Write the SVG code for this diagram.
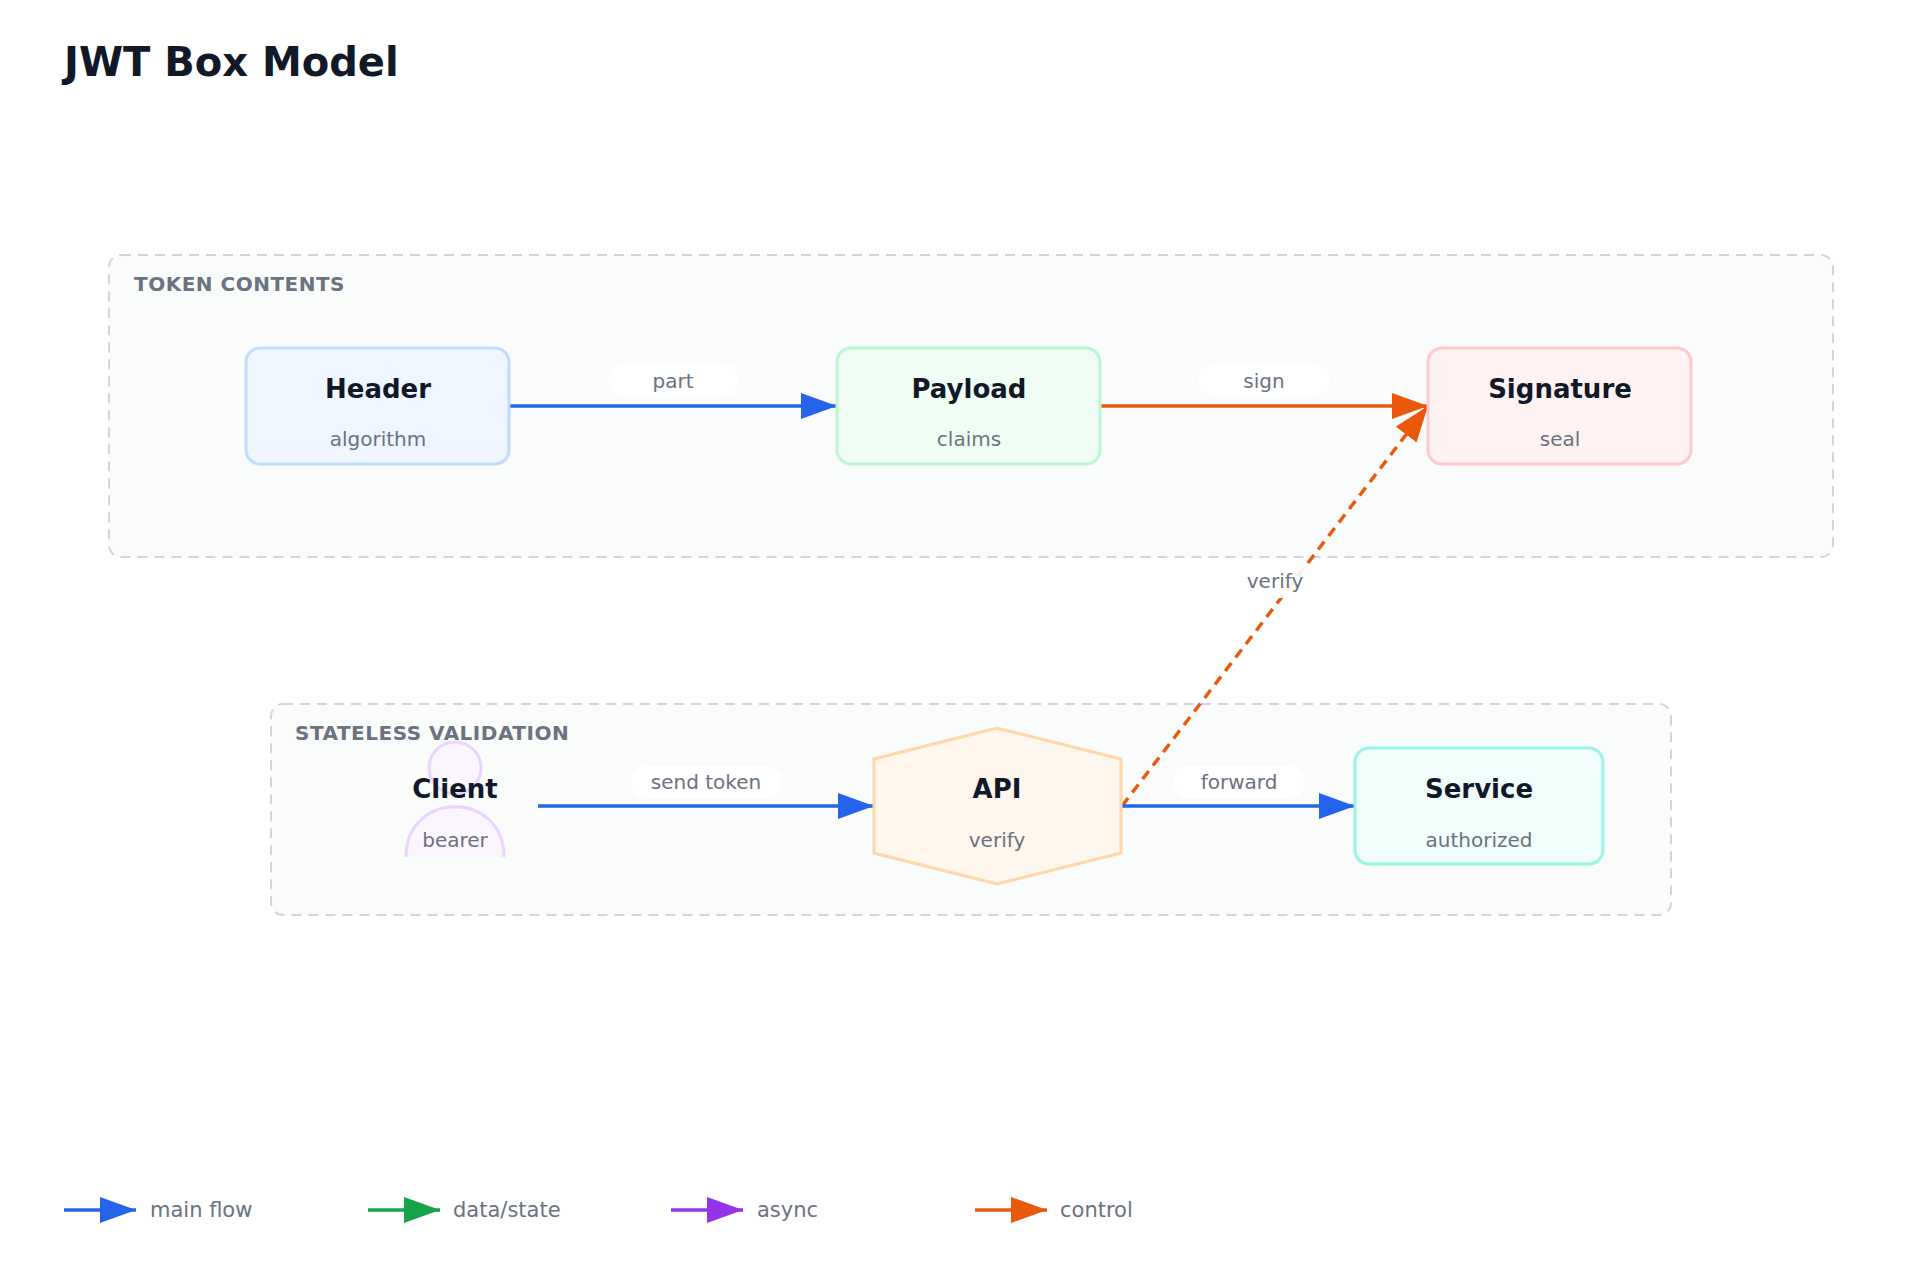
<svg xmlns="http://www.w3.org/2000/svg" width="1920" height="1280" viewBox="0 0 1920 1280">
<defs>
<style>
text{font-family:"DejaVu Sans","Noto Sans",sans-serif}
.title{font-size:40px;font-weight:bold;fill:#111827}
.grp{fill:#fafbfb;stroke:#d1d5db;stroke-width:2;stroke-dasharray:10 7}
.glabel{font-size:20px;font-weight:bold;fill:#6b7280;letter-spacing:0.5px}
.nt{font-size:26px;font-weight:bold;fill:#111827;text-anchor:middle}
.ns{font-size:20px;fill:#6b7280;text-anchor:middle}
.el{font-size:20px;fill:#6b7280;text-anchor:middle}
.pill{fill:#ffffff;opacity:0.9}
.e{fill:none;stroke-width:3.5}
.lg{font-size:21px;fill:#6b7280}
</style>
<marker id="mb" viewBox="0 0 36 26" refX="36" refY="13" markerWidth="36" markerHeight="26" markerUnits="userSpaceOnUse" orient="auto"><path d="M0,0 L36,13 L0,26 z" fill="#2563eb"/></marker>
<marker id="mo" viewBox="0 0 36 26" refX="36" refY="13" markerWidth="36" markerHeight="26" markerUnits="userSpaceOnUse" orient="auto"><path d="M0,0 L36,13 L0,26 z" fill="#ea580c"/></marker>
<marker id="mg" viewBox="0 0 36 26" refX="36" refY="13" markerWidth="36" markerHeight="26" markerUnits="userSpaceOnUse" orient="auto"><path d="M0,0 L36,13 L0,26 z" fill="#16a34a"/></marker>
<marker id="mp" viewBox="0 0 36 26" refX="36" refY="13" markerWidth="36" markerHeight="26" markerUnits="userSpaceOnUse" orient="auto"><path d="M0,0 L36,13 L0,26 z" fill="#9333ea"/></marker>
</defs>
<rect width="1920" height="1280" fill="#ffffff"/>
<text class="title" x="64" y="76">JWT Box Model</text>

<g id="group-token">
<rect class="grp" x="109" y="255" width="1724" height="302" rx="12"/>
<text class="glabel" x="134" y="291">TOKEN CONTENTS</text>
</g>
<g id="group-stateless">
<rect class="grp" x="271" y="704" width="1400" height="211" rx="12"/>
<text class="glabel" x="295" y="740">STATELESS VALIDATION</text>
</g>

<g id="connectors">
<rect class="pill" x="608" y="364" width="130" height="32" rx="14"/>
<text class="el" x="673" y="388">part</text>
<path class="e" stroke="#2563eb" marker-end="url(#mb)" d="M510,406 L837,406"/>
<rect class="pill" x="1199" y="364" width="130" height="32" rx="14"/>
<text class="el" x="1264" y="388">sign</text>
<path class="e" stroke="#ea580c" marker-end="url(#mo)" d="M1101,406 L1428,406"/>
<path class="e" stroke="#ea580c" stroke-dasharray="10 7" marker-end="url(#mo)" d="M1122,806 L1428,406"/>
<rect class="pill" x="1230" y="566" width="90" height="32" rx="14"/>
<text class="el" x="1275" y="588">verify</text>
<rect class="pill" x="631" y="766" width="150" height="32" rx="14"/>
<text class="el" x="706" y="789">send token</text>
<path class="e" stroke="#2563eb" marker-end="url(#mb)" d="M538,806 L874,806"/>
<rect class="pill" x="1174" y="766" width="130" height="32" rx="14"/>
<text class="el" x="1239" y="789">forward</text>
<path class="e" stroke="#2563eb" marker-end="url(#mb)" d="M1122,806 L1355,806"/>
</g>

<g id="node-header">
<rect x="246" y="348" width="263" height="116" rx="14" fill="#eff6ff" stroke="#bfdbfe" stroke-width="3"/>
<text class="nt" x="378" y="398">Header</text>
<text class="ns" x="378" y="446">algorithm</text>
</g>
<g id="node-payload">
<rect x="837" y="348" width="263" height="116" rx="14" fill="#f0fdf4" stroke="#bbf7d0" stroke-width="3"/>
<text class="nt" x="969" y="398">Payload</text>
<text class="ns" x="969" y="446">claims</text>
</g>
<g id="node-signature">
<rect x="1428" y="348" width="263" height="116" rx="14" fill="#fef2f2" stroke="#fecaca" stroke-width="3"/>
<text class="nt" x="1560" y="398">Signature</text>
<text class="ns" x="1560" y="446">seal</text>
</g>
<g id="node-client">
<circle cx="455" cy="768" r="26" fill="#faf5ff" stroke="#e9d5ff" stroke-width="3"/>
<path d="M406,857 C406,790 504,790 504,857" fill="#faf5ff" stroke="#e9d5ff" stroke-width="3"/>
<text class="nt" x="455" y="798">Client</text>
<text class="ns" x="455" y="847">bearer</text>
</g>
<g id="node-api">
<polygon points="874,759 997,728 1121,759 1121,853 997,884 874,853" fill="#fff7ed" stroke="#fed7aa" stroke-width="3"/>
<text class="nt" x="997" y="798">API</text>
<text class="ns" x="997" y="847">verify</text>
</g>
<g id="node-service">
<rect x="1355" y="748" width="248" height="116" rx="14" fill="#f0fdfa" stroke="#99f6e4" stroke-width="3"/>
<text class="nt" x="1479" y="798">Service</text>
<text class="ns" x="1479" y="847">authorized</text>
</g>

<g id="legend">
<path class="e" stroke="#2563eb" marker-end="url(#mb)" d="M64,1210 L136,1210"/>
<text class="lg" x="150" y="1217">main flow</text>
<path class="e" stroke="#16a34a" marker-end="url(#mg)" d="M368,1210 L440,1210"/>
<text class="lg" x="453" y="1217">data/state</text>
<path class="e" stroke="#9333ea" marker-end="url(#mp)" d="M671,1210 L743,1210"/>
<text class="lg" x="757" y="1217">async</text>
<path class="e" stroke="#ea580c" marker-end="url(#mo)" d="M975,1210 L1047,1210"/>
<text class="lg" x="1060" y="1217">control</text>
</g>
</svg>
